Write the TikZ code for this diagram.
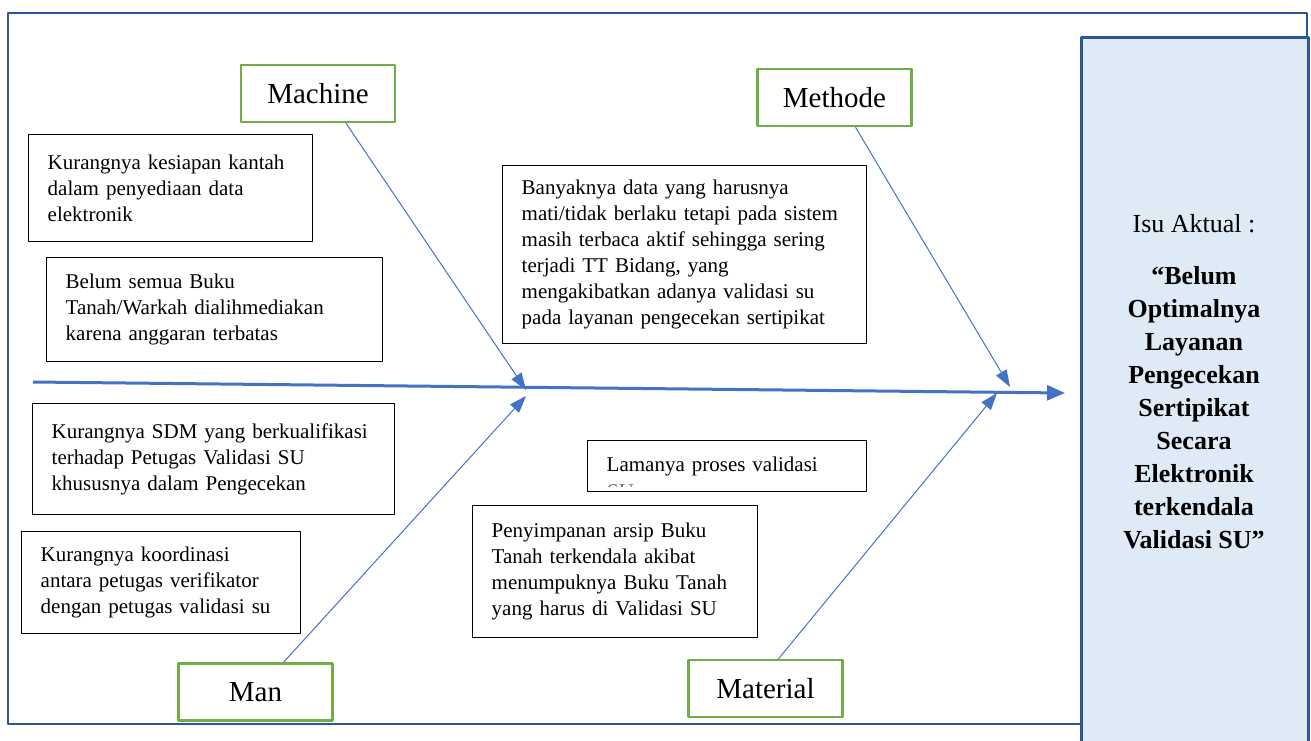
\documentclass[tikz,border=0pt]{standalone}
\usepackage{fontspec}
\setmainfont{Liberation Serif}
\usetikzlibrary{arrows.meta}

\definecolor{frameblue}{HTML}{2F5597}
\definecolor{spineblue}{HTML}{4472C4}
\definecolor{issuefill}{HTML}{DEEAF6}
\definecolor{labelgreen}{HTML}{70AD47}

\tikzset{
  causebox/.style={draw=black, line width=1.4pt, anchor=north west, align=left,
    inner xsep=19pt, inner ysep=0pt, font=\fontsize{21}{26}\selectfont},
  bonelabel/.style={draw=labelgreen, line width=2.4pt, minimum width=154pt,
    minimum height=57pt, inner sep=0pt, font=\fontsize{29}{34}\selectfont},
  bone/.style={draw=spineblue, line width=1pt, -{Triangle[length=17pt,width=12pt]}},
  spine/.style={draw=spineblue, line width=3pt, -{Triangle[length=18pt,width=15pt]}},
}

\begin{document}
\begin{tikzpicture}[x=1pt,y=-1pt,line join=round]
  % Keep the page at the size of the original artwork.
  \useasboundingbox (0,0) rectangle (1311,740);

  % Outer frame and the issue panel on the right.
  \draw[frameblue, line width=2.5pt] (8,13) rectangle (1307,724);
  \node[draw=frameblue, fill=issuefill, line width=3pt, anchor=north west,
    minimum width=227pt, minimum height=720pt, inner sep=0pt] (issuebox) at (1080,36) {};
  \node[font=\fontsize{26}{33}\selectfont] (issuelabel) at (1194,224) {Isu Aktual :};
  \node[font=\fontsize{26}{33}\selectfont\bfseries, align=center] (issuetitle) at (1194,408)
    {``Belum\\Optimalnya\\Layanan\\Pengecekan\\Sertipikat\\Secara\\Elektronik\\terkendala\\Validasi SU''};

  % Spine and the points where the bones meet it.
  \coordinate (spinestart) at (33,382);
  \coordinate (spineend) at (1065,393);
  \coordinate (machinetip) at (526,390);
  \coordinate (mantip) at (526,396);
  \coordinate (methodetip) at (1010,387);
  \coordinate (materialtip) at (997,393);

  % Category labels.
  \node[bonelabel] (machine) at (318,93.5) {Machine};
  \node[bonelabel] (methode) at (834.5,97.5) {Methode};
  \node[bonelabel] (man) at (255.5,692) {Man};
  \node[bonelabel] (material) at (765.5,688.5) {Material};

  % Causes.
  \node[causebox, minimum height=107pt, text width=246pt] (kesiapan) at (28,134)
    {Kurangnya kesiapan kantah\\dalam penyediaan data\\elektronik};
  \node[causebox, minimum height=104pt, text width=298pt] (alihmedia) at (46,257)
    {Belum semua Buku\\Tanah/Warkah dialihmediakan\\karena anggaran terbatas};
  \node[causebox, minimum height=111pt, text width=324pt] (sdm) at (32,403)
    {Kurangnya SDM yang berkualifikasi\\terhadap Petugas Validasi SU\\khususnya dalam Pengecekan};
  \node[causebox, minimum height=102pt, text width=241pt] (koordinasi) at (21,531)
    {Kurangnya koordinasi\\antara petugas verifikator\\dengan petugas validasi su};
  \node[causebox, minimum height=178pt, text width=326pt] (banyaknya) at (502,165)
    {Banyaknya data yang harusnya\\mati/tidak berlaku tetapi pada sistem\\masih terbaca aktif sehingga sering\\terjadi TT Bidang, yang\\mengakibatkan adanya validasi su\\pada layanan pengecekan sertipikat};
  \node[causebox, minimum height=51pt, text width=241pt] (lamanya) at (587,440)
    {Lamanya proses validasi};
  % The second line is cut off by the box in the original.
  \begin{scope}
    \clip (lamanya.north west) rectangle ([yshift=6pt]lamanya.south east);
    \node[anchor=base west, inner sep=0pt, font=\fontsize{21}{26}\selectfont, text=black!60]
      (lamanyasu) at (607,498) {SU};
  \end{scope}
  \node[causebox, minimum height=132pt, text width=247pt] (penyimpanan) at (472,505)
    {Penyimpanan arsip Buku\\Tanah terkendala akibat\\menumpuknya Buku Tanah\\yang harus di Validasi SU};

  % Bones first, spine on top.
  \draw[bone] ([xshift=28pt]machine.south) -- (machinetip);
  \draw[bone] ([xshift=21pt]methode.south) -- (methodetip);
  \draw[bone] ([xshift=28pt]man.north) -- (mantip);
  \draw[bone] ([xshift=13pt]material.north) -- (materialtip);
  \draw[spine] (spinestart) -- (spineend);
\end{tikzpicture}
\end{document}
